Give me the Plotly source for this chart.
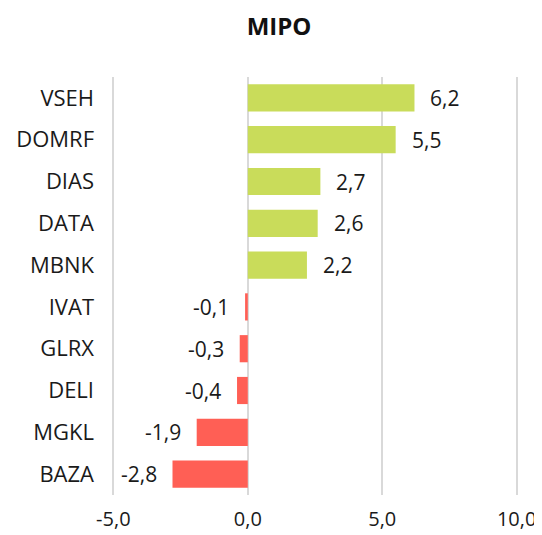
import plotly.graph_objects as go

categories = ["VSEH", "DOMRF", "DIAS", "DATA", "MBNK", "IVAT", "GLRX", "DELI", "MGKL", "BAZA"]
values = [6.2, 5.5, 2.7, 2.6, 2.2, -0.1, -0.3, -0.4, -1.9, -2.8]
tick_vals = [-5, 0, 5, 10]
tick_text = ["-5,0", "0,0", "5,0", "10,0"]

GREEN = "#C9DC5A"
RED = "#FF5F55"
FONT = "Open Sans, sans-serif"

colors = [GREEN if v >= 0 else RED for v in values]

fig = go.Figure(go.Bar(
    x=values, y=categories, orientation="h",
    marker=dict(color=colors, line=dict(width=0)),
    hoverinfo="skip",
))

for c, v in zip(categories, values):
    fig.add_annotation(
        x=v, y=c, text=f"{v:.1f}".replace(".", ","),
        showarrow=False, xanchor="left" if v >= 0 else "right",
        xshift=14 if v >= 0 else -14,
        font=dict(family=FONT, size=21, color="#1a1a1a"),
    )

fig.update_layout(
    width=542, height=535,
    margin=dict(l=104, r=32, t=69, b=48),
    paper_bgcolor="white", plot_bgcolor="white",
    bargap=0.35,
    showlegend=False,
    title=dict(text="<b>MIPO</b>", x=0.5, xanchor="center", y=1 - 19 / 535, yanchor="middle",
               xref="container",
               font=dict(family=FONT, size=24, color="#111111")),
    xaxis=dict(range=[-5.05, 10.05], tickvals=tick_vals, ticktext=tick_text,
               showgrid=True, gridcolor="#d9d9d9", gridwidth=2,
               zeroline=False, showline=False, ticks="",
               tickfont=dict(family=FONT, size=20, color="#1a1a1a"),
               ticklabelstandoff=10, automargin=False),
    yaxis=dict(categoryorder="array", categoryarray=categories[::-1],
               showgrid=False, zeroline=False, showline=False, ticks="",
               tickfont=dict(family=FONT, size=22, color="#1a1a1a"),
               ticklabelstandoff=17, automargin=False),
    font=dict(family=FONT),
)

fig.write_html("out.html")
